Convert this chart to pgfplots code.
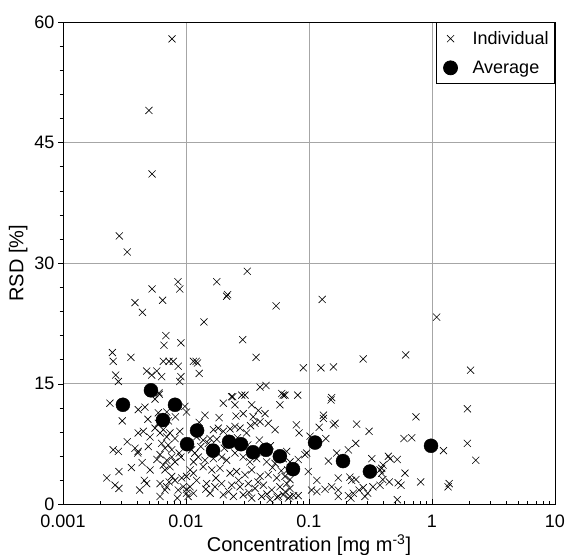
\documentclass[border=0pt]{standalone}
\usepackage{pgfplots}
\pgfplotsset{compat=1.18}
\usepackage{fontspec}
\setmainfont{Liberation Sans}
\begin{document}
\begin{tikzpicture}
\path[use as bounding box] (0,0) rectangle (567bp,555bp);
\begin{axis}[
  at={(63bp,50.5bp)}, anchor=south west,
  scale only axis, width=492bp, height=482.5bp,
  xmode=log, xmin=0.001, xmax=10, ymin=0, ymax=60,
  xtick={0.001,0.01,0.1,1,10}, xticklabels={0.001,0.01,0.1,1,10},
  ytick={0,15,30,45,60}, minor y tick num=4,
  /pgf/number format/assume math mode=true,
  grid=major, major grid style={gray!70, line width=0.8bp},
  axis line style={line width=0.8bp},
  tick pos=left, tick align=outside,
  major tick length=5bp, minor tick length=3.5bp,
  every tick/.style={black, line width=0.7bp},
  minor x tick style={yshift=3.5bp},
  major x tick style={yshift=5bp},
  ticklabel style={font=\fontsize{18bp}{20bp}\selectfont},
  xticklabel style={yshift=-2bp},
  label style={font=\fontsize{20bp}{22bp}\selectfont},
  xlabel={Concentration [mg m\textsuperscript{-3}]},
  ylabel={RSD [\%]},
  legend style={at={(1,1)}, anchor=north east, draw=black, line width=0.8bp,
    font=\fontsize{18bp}{20bp}\selectfont, inner xsep=4bp, inner ysep=7bp, row sep=11bp},
  legend cell align=left,
  legend image code/.code={\path[draw=none,fill=none] (-10bp,0bp) -- (20bp,0bp);
    \draw[#1] plot coordinates {(0bp,0bp)};},
]
\addplot[only marks, mark=x, mark size=5bp, black, line width=0.6bp] table {
x y
0.0077 57.9
0.0050 49.0
0.0053 41.1
0.00287 33.4
0.00333 31.4
0.0315 29.0
0.0178 27.7
0.0086 27.7
0.0089 26.8
0.0053 26.8
0.00385 25.1
0.00442 23.9
0.00646 25.4
0.00687 21.0
0.00662 19.8
0.0091 20.1
0.00252 18.9
0.00256 17.8
0.00357 18.3
0.00268 16.1
0.00282 15.3
0.00479 16.6
0.00526 16.1
0.00578 16.6
0.00634 15.9
0.00654 17.8
0.00728 17.8
0.00788 17.8
0.00865 17.2
0.0091 15.9
0.0089 15.3
0.00607 13.7
0.0115 17.8
0.0214 25.9
0.0218 26.1
0.054 24.7
0.014 22.7
0.0289 20.5
0.0371 18.3
0.0121 17.8
0.0124 17.6
0.0128 16.3
0.040 14.6
0.0447 14.8
0.024 13.4
0.0302 13.6
0.0618 13.6
0.128 25.5
0.276 18.1
0.090 17.0
0.125 17.0
0.158 17.1
0.0638 13.6
0.081 13.6
0.153 13.3
1.09 23.3
0.611 18.6
2.06 16.7
1.94 11.9
0.741 10.9
0.592 8.2
0.684 8.3
1.94 7.6
1.24 6.7
2.27 5.5
0.442 6.0
0.456 5.7
0.522 5.6
0.39 4.5
0.39 3.9
0.603 3.9
0.398 3.1
0.45 2.8
0.531 2.7
0.56 2.4
0.809 2.8
1.38 2.6
1.35 2.2
0.522 0.6
0.378 2.4
0.151 13.0
0.131 11.1
0.131 10.7
0.079 9.9
0.083 8.9
0.121 9.6
0.158 9.9
0.163 10.1
0.244 10.0
0.308 9.1
0.137 8.2
0.102 8.5
0.24 7.6
0.209 6.8
0.144 5.4
0.168 6.4
0.324 5.7
0.378 4.3
0.40 4.9
0.0659 6.6
0.0701 5.3
0.0818 5.6
0.0927 6.2
0.0957 6.4
0.067 4.3
0.070 3.1
0.066 2.6
0.0987 4.1
0.116 3.0
0.105 1.8
0.116 1.6
0.0818 1.1
0.070 1.0
0.135 1.9
0.153 2.2
0.173 1.8
0.173 1.0
0.215 3.4
0.222 3.0
0.241 3.1
0.209 1.1
0.219 0.8
0.229 1.4
0.255 1.8
0.285 1.0
0.30 1.4
0.276 2.1
0.331 2.2
0.173 3.3
0.00241 12.6
0.00409 11.8
0.00464 12.1
0.00603 13.9
0.0056 13.1
0.00596 11.4
0.00697 11.5
0.00596 10.1
0.00303 10.4
0.0098 12.2
0.0101 11.5
0.00409 8.9
0.00450 9.1
0.00510 8.4
0.00333 7.8
0.0056 9.5
0.00615 8.9
0.00654 9.3
0.00697 8.4
0.00741 8.9
0.00814 8.2
0.0089 9.1
0.00256 6.8
0.00282 6.6
0.00385 7.0
0.00405 6.4
0.00409 6.6
0.00494 7.2
0.00634 7.6
0.00675 7.0
0.00718 7.4
0.00766 6.8
0.00615 6.2
0.00697 5.5
0.00766 5.9
0.00741 4.7
0.00675 4.3
0.00654 4.9
0.00814 5.3
0.0091 5.9
0.00227 3.3
0.00285 4.1
0.00265 2.4
0.00285 2.0
0.0051 4.3
0.00459 3.0
0.00479 2.6
0.00615 2.6
0.00697 2.2
0.00675 1.8
0.00615 1.0
0.00922 3.3
0.0101 3.5
0.0095 2.2
0.0101 1.9
0.00865 1.8
0.00766 3.5
0.00814 3.0
0.0104 1.0
0.0101 1.4
0.0201 12.6
0.0235 13.4
0.025 12.4
0.0284 13.6
0.0342 12.4
0.0292 11.3
0.0352 10.9
0.0387 11.7
0.0439 11.3
0.058 12.4
0.060 13.8
0.01426 11.1
0.0167 9.3
0.0183 9.5
0.0201 9.1
0.0228 9.4
0.025 9.7
0.0275 9.5
0.0311 8.9
0.0364 10.1
0.040 10.3
0.0467 10.1
0.053 9.3
0.0122 8.4
0.0138 8.0
0.0152 7.6
0.0157 8.2
0.0111 6.8
0.0118 6.4
0.0126 5.9
0.0115 5.3
0.01426 5.5
0.0167 5.7
0.0195 5.9
0.0214 5.5
0.025 6.4
0.0292 5.9
0.0331 5.3
0.0376 5.7
0.0453 5.3
0.053 5.1
0.0618 5.7
0.0138 4.7
0.0162 4.3
0.0189 4.5
0.0228 3.9
0.0258 4.1
0.0302 3.7
0.0342 4.3
0.040 3.5
0.0467 3.7
0.0546 3.3
0.0638 3.5
0.0122 3.0
0.0147 2.6
0.0172 2.2
0.0195 2.6
0.0235 2.4
0.0275 2.2
0.0321 2.6
0.0364 2.0
0.0426 2.4
0.0498 1.8
0.058 2.2
0.0157 1.4
0.0201 1.2
0.0243 1.0
0.0292 1.2
0.0342 0.8
0.0412 1.0
0.0482 0.6
0.0564 1.0
0.0108 4.3
0.0115 3.9
0.0108 2.2
0.0115 1.4
0.055 0.9
0.062 1.2
0.068 0.8
0.075 1.1
0.070 2.0
0.064 1.6
0.0132 7.2
0.0178 8.1
0.0205 7.0
0.0262 8.3
0.0318 7.4
0.0395 8.0
0.0485 7.3
0.0128 10.2
0.0186 10.8
0.0255 11.0
0.0335 9.8
0.0072 10.4
0.0082 10.9
0.0049 10.6
0.0044 5.2
0.0058 5.6
0.0036 4.6
0.0042 1.8
0.0088 6.4
0.0175 3.3
0.0268 3.0
0.0385 2.8
0.0505 4.6
0.0595 4.2
0.0145 1.9
0.0222 1.6
0.0325 1.5
0.0455 1.3
0.0085 0.8
0.0073 2.8
};
\addlegendentry{Individual}
\addplot[only marks, mark=*, mark size=7bp, black] table {
x y
0.00307 12.4
0.00519 14.2
0.0065 10.5
0.00814 12.4
0.0102 7.5
0.0123 9.2
0.0166 6.7
0.0224 7.8
0.028 7.5
0.0351 6.5
0.0447 6.8
0.058 6.0
0.0741 4.4
0.112 7.7
0.189 5.4
0.313 4.1
0.982 7.3
};
\addlegendentry{Average}
\end{axis}
\end{tikzpicture}
\end{document}
